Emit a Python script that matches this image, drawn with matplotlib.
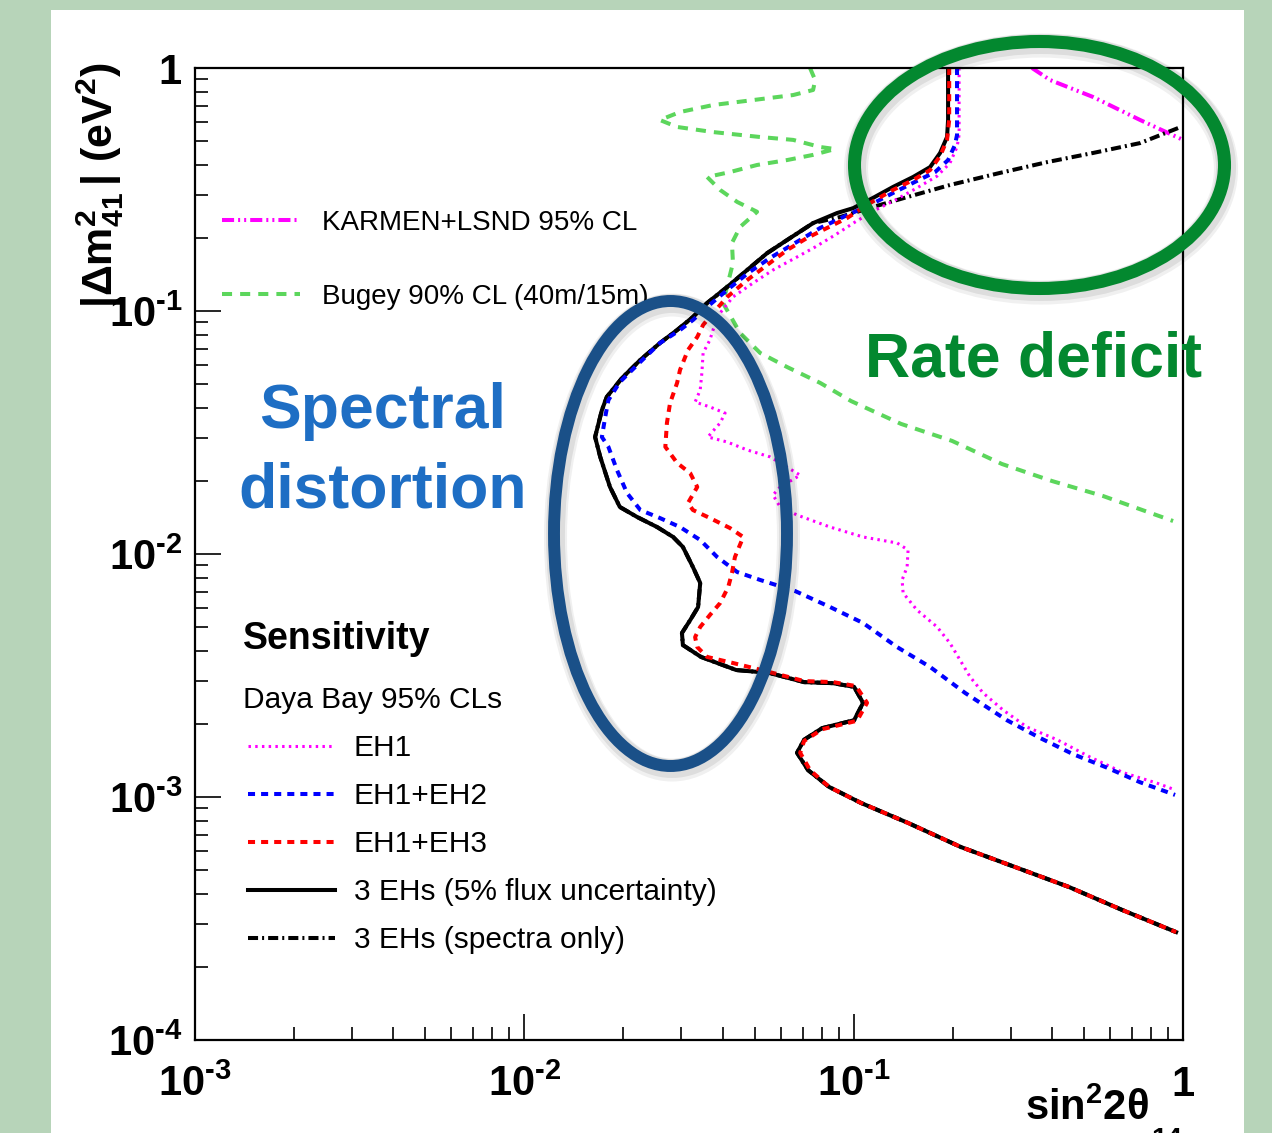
import matplotlib
matplotlib.use('Agg')
import matplotlib.pyplot as plt
from matplotlib.patches import Ellipse, Rectangle
from matplotlib.ticker import NullFormatter, LogLocator

plt.rcParams['font.family'] = ['Liberation Sans', 'DejaVu Sans']
plt.rcParams['mathtext.fontset'] = 'custom'
plt.rcParams['mathtext.rm'] = 'Liberation Sans'
plt.rcParams['mathtext.bf'] = 'Liberation Sans:bold'
plt.rcParams['mathtext.it'] = 'Liberation Sans:italic'

# ---- data (sin^2 2theta_14, |dm^2_41| in eV^2) ----
# 3 EHs (5% flux uncertainty)
flux_s2 = [0.1935, 0.1935, 0.1921, 0.183, 0.1706, 0.1515, 0.1317, 0.1145, 0.0996, 0.0890,
           0.0753, 0.0628, 0.0546, 0.0475, 0.0413, 0.0359, 0.0325, 0.0291, 0.0258, 0.0225,
           0.0198, 0.0178, 0.0172, 0.0164, 0.0170, 0.0182, 0.0195, 0.0220, 0.0253, 0.0283,
           0.0303, 0.0325, 0.0342, 0.0337, 0.0319, 0.0301, 0.0303, 0.0344, 0.0440, 0.0554,
           0.0707, 0.0866, 0.1003, 0.1068, 0.1003, 0.0802, 0.0707, 0.0673, 0.0727, 0.0842,
           0.1053, 0.1463, 0.2119, 0.309, 0.451, 0.653, 0.953]
flux_dm2 = [1.0, 0.611, 0.520, 0.447, 0.391, 0.356, 0.324, 0.292, 0.265, 0.253,
            0.230, 0.196, 0.173, 0.1475, 0.1256, 0.1079, 0.0945, 0.0835, 0.0738, 0.0629,
            0.0530, 0.0443, 0.0391, 0.0303, 0.0251, 0.01887, 0.01561, 0.01420, 0.01291, 0.01175,
            0.01069, 0.00884, 0.00760, 0.00605, 0.00535, 0.00473, 0.00422, 0.00377, 0.00333, 0.00324,
            0.00297, 0.00294, 0.00284, 0.00244, 0.00207, 0.00192, 0.00172, 0.00152, 0.00129, 0.00110,
            0.000945, 0.000782, 0.000622, 0.000515, 0.000426, 0.000343, 0.000278]

# 3 EHs (spectra only): own upper branch, then same as the flux curve
spec_top_s2 = [0.966, 0.741, 0.533, 0.387, 0.278, 0.196, 0.145, 0.1145, 0.0909]
spec_top_dm2 = [0.566, 0.491, 0.447, 0.410, 0.370, 0.330, 0.294, 0.268, 0.2436]

# EH1+EH2
eh12_s2 = [0.206, 0.206, 0.203, 0.1935, 0.1767, 0.1536, 0.1317, 0.1121, 0.0955, 0.0791,
           0.0664, 0.0557, 0.0478, 0.0413, 0.0359, 0.0325, 0.0297, 0.0258, 0.0225, 0.0195,
           0.0180, 0.0176, 0.0172, 0.0180, 0.0191, 0.0205, 0.0225, 0.0258, 0.0297, 0.0342,
           0.0385, 0.0443, 0.0520, 0.0664, 0.0848, 0.1068, 0.1355, 0.1706, 0.218, 0.292,
           0.368, 0.464, 0.588, 0.741, 0.946]
eh12_dm2 = [1.0, 0.530, 0.482, 0.418, 0.373, 0.340, 0.306, 0.273, 0.248, 0.2196,
            0.1905, 0.1652, 0.1433, 0.1220, 0.1039, 0.0918, 0.0835, 0.0738, 0.0617, 0.0510,
            0.0430, 0.0366, 0.0303, 0.0276, 0.0222, 0.01782, 0.01517, 0.01406, 0.01291, 0.01142,
            0.00972, 0.00843, 0.00782, 0.00704, 0.00605, 0.00520, 0.00414, 0.00343, 0.00268, 0.00207,
            0.00175, 0.00150, 0.00132, 0.00115, 0.00102]

# EH1+EH3
eh13_s2 = [0.195, 0.195, 0.1921, 0.183, 0.1706, 0.1515, 0.1317, 0.1121, 0.0955, 0.0830,
           0.0722, 0.0628, 0.0546, 0.0475, 0.0413, 0.0374, 0.0349, 0.0335, 0.0314, 0.0297,
           0.0291, 0.0277, 0.0271, 0.0268, 0.0291, 0.0319, 0.0335, 0.0314, 0.0325, 0.0366,
           0.0421, 0.0462, 0.0436, 0.0427, 0.0416, 0.0393, 0.0366, 0.0342, 0.0330, 0.0335,
           0.0359, 0.0430, 0.0554, 0.0707, 0.0866, 0.1017, 0.1098, 0.1024, 0.0802, 0.0707,
           0.0688, 0.0737, 0.0842, 0.1053, 0.1463, 0.2119, 0.309, 0.451, 0.653, 0.953]
eh13_dm2 = [1.0, 0.611, 0.506, 0.434, 0.380, 0.346, 0.315, 0.278, 0.2413, 0.2196,
            0.1998, 0.1782, 0.1546, 0.1341, 0.1142, 0.0981, 0.0876, 0.0782, 0.0691, 0.0572,
            0.0506, 0.0418, 0.0346, 0.0276, 0.0237, 0.0215, 0.01887, 0.01622, 0.01517, 0.01406,
            0.01279, 0.01175, 0.00972, 0.00835, 0.00731, 0.00628, 0.00561, 0.00501, 0.00455, 0.00414,
            0.00377, 0.00356, 0.00327, 0.00300, 0.00297, 0.00286, 0.00244, 0.00206, 0.00190, 0.00170,
            0.00152, 0.00129, 0.00110, 0.000945, 0.000782, 0.000622, 0.000515, 0.000426, 0.000343, 0.000278]

# EH1
eh1_s2 = [0.209, 0.209, 0.206, 0.196, 0.1792, 0.1557, 0.1336, 0.1161, 0.1010, 0.0878,
          0.0764, 0.0673, 0.0569, 0.0495, 0.0430, 0.0393, 0.0374, 0.0366, 0.0349, 0.0346,
          0.0342, 0.0330, 0.0366, 0.0407, 0.0393, 0.0372, 0.0361, 0.0413, 0.0475, 0.0557,
          0.0598, 0.0688, 0.0598, 0.0569, 0.0598, 0.0673, 0.0848, 0.1068, 0.1355, 0.1463,
          0.1453, 0.1403, 0.1413, 0.1557, 0.1792, 0.196, 0.2104, 0.2257, 0.2472, 0.2842,
          0.336, 0.415, 0.522, 0.658, 0.834, 0.946]
eh1_dm2 = [1.0, 0.530, 0.473, 0.406, 0.359, 0.321, 0.286, 0.260, 0.2324, 0.2055,
           0.1834, 0.1668, 0.1475, 0.1304, 0.1142, 0.0981, 0.0835, 0.0760, 0.0672, 0.0556,
           0.0473, 0.0422, 0.0403, 0.0380, 0.0346, 0.0318, 0.0303, 0.0289, 0.0268, 0.0251,
           0.0237, 0.0211, 0.01887, 0.01749, 0.01561, 0.01447, 0.01291, 0.01175, 0.01110, 0.01039,
           0.00884, 0.00782, 0.00691, 0.00588, 0.00501, 0.00430, 0.00366, 0.00312, 0.00268, 0.00228,
           0.00194, 0.00172, 0.00146, 0.00126, 0.00114, 0.00107]

# Bugey 90% CL (40m/15m)
bugey_s2 = [0.0737, 0.0764, 0.0753, 0.0655, 0.0495, 0.0374, 0.0297, 0.0258, 0.0291, 0.0374,
            0.0520, 0.0655, 0.0791, 0.0878, 0.0753, 0.0628, 0.0509, 0.0421, 0.0359, 0.0393,
            0.0443, 0.0509, 0.0452, 0.0427, 0.0430, 0.0401, 0.0452, 0.0520, 0.0628, 0.0791,
            0.0982, 0.1393, 0.199, 0.282, 0.400, 0.572, 0.933]
bugey_dm2 = [1.0, 0.892, 0.812, 0.774, 0.738, 0.704, 0.659, 0.611, 0.572, 0.545,
             0.520, 0.506, 0.473, 0.464, 0.439, 0.418, 0.399, 0.373, 0.356, 0.315,
             0.281, 0.256, 0.2217, 0.1905, 0.1576, 0.1079, 0.0812, 0.0672, 0.0588, 0.0506,
             0.0426, 0.0343, 0.0292, 0.02346, 0.01997, 0.01732, 0.01367]

# KARMEN+LSND 95% CL
karmen_s2 = [0.348, 0.395, 0.533, 0.741, 1.0]
karmen_dm2 = [1.0, 0.892, 0.760, 0.611, 0.506]

xtick_vals = [1e-3, 1e-2, 1e-1, 1]
xtick_text = [r'$\mathbf{10^{‐3}}$', r'$\mathbf{10^{‐2}}$', r'$\mathbf{10^{‐1}}$', r'$\mathbf{1}$']
ytick_vals = [1e-4, 1e-3, 1e-2, 1e-1, 1]
ytick_text = [r'$\mathbf{10^{‐4}}$', r'$\mathbf{10^{‐3}}$', r'$\mathbf{10^{‐2}}$', r'$\mathbf{10^{‐1}}$', r'$\mathbf{1}$']

W, H = 1272, 1133


def fx(px):
    return px / W


def fy(py):
    return 1 - py / H


fig = plt.figure(figsize=(W / 100, H / 100), dpi=100, facecolor='#b7d4b9')
fig.patches.append(Rectangle((fx(51), 0), fx(1244) - fx(51), fy(10), transform=fig.transFigure,
                             facecolor='white', edgecolor='none', zorder=-1))

ax = fig.add_axes([fx(195), fy(1040), fx(1183) - fx(195), fy(68) - fy(1040)])
ax.set_xscale('log')
ax.set_yscale('log')
ax.set_xlim(1e-3, 1)
ax.set_ylim(1e-4, 1)
for s in ax.spines.values():
    s.set_linewidth(1.6)

ax.set_xticks(xtick_vals)
ax.set_xticklabels(xtick_text)
ax.set_yticks(ytick_vals)
ax.set_yticklabels(ytick_text)
ax.xaxis.set_minor_locator(LogLocator(base=10, subs=range(2, 10)))
ax.yaxis.set_minor_locator(LogLocator(base=10, subs=range(2, 10)))
ax.xaxis.set_minor_formatter(NullFormatter())
ax.yaxis.set_minor_formatter(NullFormatter())
ax.tick_params(which='both', direction='in', top=False, right=False, width=1.2)
ax.tick_params(which='major', length=19, labelsize=30)
ax.tick_params(axis='x', which='major', pad=18)
ax.tick_params(axis='y', which='major', pad=9)
ax.tick_params(which='minor', length=9.5)

lw = 2.9
ln_karmen, = ax.plot(karmen_s2, karmen_dm2, color='#ff00ff', lw=lw,
                     ls=(0, (3, 1, 0.5, 1, 0.5, 1)), label='KARMEN+LSND 95% CL', zorder=2)
ln_bugey, = ax.plot(bugey_s2, bugey_dm2, color='#5cd65c', lw=lw,
                    ls=(0, (2.5, 2)), label='Bugey 90% CL (40m/15m)', zorder=2)
ln_flux, = ax.plot(flux_s2, flux_dm2, color='black', lw=lw, ls='-',
                   label='3 EHs (5% flux uncertainty)', zorder=2.1)
ln_spec, = ax.plot(spec_top_s2 + flux_s2[10:], spec_top_dm2 + flux_dm2[10:], color='black', lw=lw,
                   ls=(0, (2.5, 1, 0.5, 1)), label='3 EHs (spectra only)', zorder=2.2)
ln_eh1, = ax.plot(eh1_s2, eh1_dm2, color='#ff00ff', lw=2.2, ls=(0, (0.8, 1.4)),
                  label='EH1', zorder=2.3)
ln_eh12, = ax.plot(eh12_s2, eh12_dm2, color='#0000ff', lw=lw, ls=(0, (1.75, 1.5)),
                   label='EH1+EH2', zorder=2.4)
ln_eh13, = ax.plot(eh13_s2, eh13_dm2, color='#ff0000', lw=lw, ls=(0, (1.75, 1.5)),
                   label='EH1+EH3', zorder=2.5)

leg1 = ax.legend(handles=[ln_karmen, ln_bugey], loc='upper left', bbox_to_anchor=(fx(222), fy(210)),
                 bbox_transform=fig.transFigure, frameon=False, fontsize=20, borderpad=0,
                 borderaxespad=0, handlelength=2.8, handletextpad=0.8, labelspacing=1.72)
ax.add_artist(leg1)
ax.legend(handles=[ln_eh1, ln_eh12, ln_eh13, ln_flux, ln_spec], loc='upper left',
          bbox_to_anchor=(fx(248), fy(734)), bbox_transform=fig.transFigure, frameon=False,
          fontsize=21.5, borderpad=0, borderaxespad=0, handlelength=2.9, handletextpad=0.64,
          labelspacing=0.67)

fig.text(fx(243), fy(649), 'Sensitivity', fontsize=27, fontweight='bold', va='baseline')
fig.text(fx(243), fy(708), 'Daya Bay 95% CLs', fontsize=21.5, va='baseline')

# axis titles
fig.text(fx(100), fy(185), r'$\mathbf{|\Delta m^{2}_{41}\,|\ (eV^{2})}$', fontsize=31,
         rotation=90, ha='center', va='center')
fig.text(fx(1149), fy(1120), r'$\mathbf{sin^{2}2\theta}$', fontsize=30, ha='right', va='baseline')
fig.text(fx(1151), fy(1147), '14', fontsize=20, fontweight='bold', ha='left', va='baseline')

# highlight ellipses with a soft shadow
for (cx, cy, w, h, col, lwe) in [(1039.5, 165, 370, 247, '#03882f', 9.4),
                                 (670.5, 533.5, 233, 465, '#1a5088', 8.6)]:
    for k, a in [(4, 0.06), (2.5, 0.08)]:
        fig.patches.append(Ellipse((fx(cx + 1.5), fy(cy + k)), w / W, h / H, transform=fig.transFigure,
                                   fill=False, edgecolor='black', alpha=a, lw=lwe + 2 * k, zorder=5))
    fig.patches.append(Ellipse((fx(cx), fy(cy)), w / W, h / H, transform=fig.transFigure,
                               fill=False, edgecolor=col, lw=lwe, zorder=6))

fig.text(fx(383), fy(428), 'Spectral', fontsize=45, fontweight='bold', color='#1e6ec4',
         ha='center', va='baseline', zorder=7)
fig.text(fx(383), fy(508), 'distortion', fontsize=45, fontweight='bold', color='#1e6ec4',
         ha='center', va='baseline', zorder=7)
fig.text(fx(1034), fy(376), 'Rate deficit', fontsize=45, fontweight='bold', color='#03882f',
         ha='center', va='baseline', zorder=7)

fig.savefig('out.png', dpi=100, facecolor=fig.get_facecolor())
